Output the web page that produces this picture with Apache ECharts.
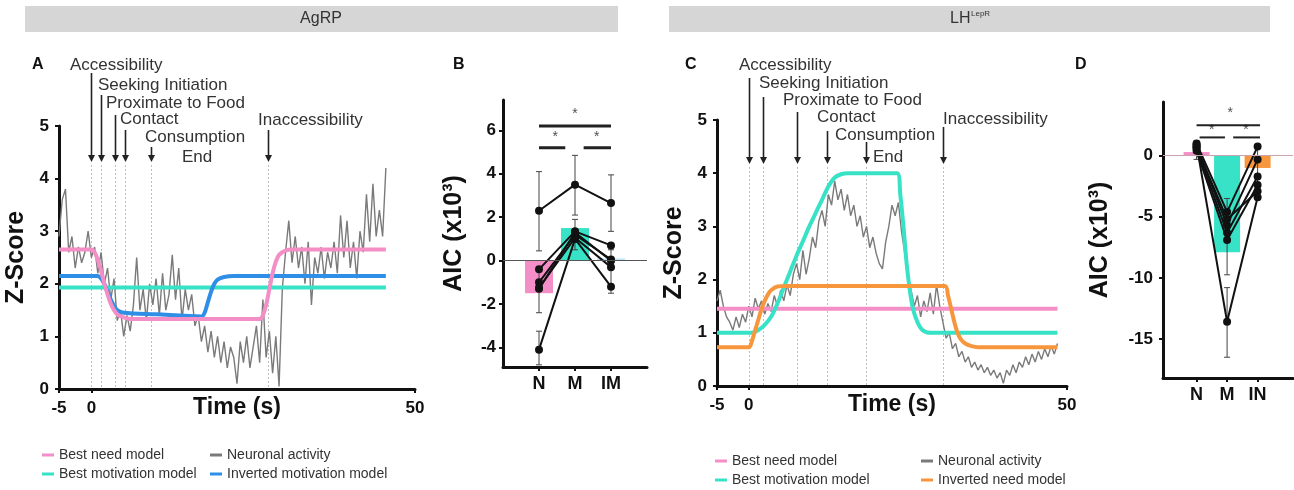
<!DOCTYPE html>
<html>
<head>
<meta charset="utf-8">
<script src="https://cdn.jsdelivr.net/npm/echarts@6/dist/echarts.min.js"></script>
<style>
  html, body { margin: 0; padding: 0; background: #fff; }
  #chart { width: 1294px; height: 490px; }
</style>
</head>
<body>
<div id="chart"></div>
<script>
// ---- data ----
const traceStart = -5;
const traceStep = 0.5;

// AgRP neuronal activity (z-score), one value every 0.5 s from -5 s
const activityA = [
  2.9, 3.6, 3.8, 2.6, 2.9, 2.3, 2.7, 2.4, 2.6, 3.0,
  2.5, 2.7, 2.2, 2.6, 2.0, 2.3, 1.7, 2.1, 1.3, 1.5,
  1.0, 1.4, 1.1, 1.6, 2.5, 1.5, 1.9, 1.3, 2.0, 1.6,
  2.1, 1.4, 2.2, 1.5, 1.8, 2.55, 1.7, 2.3, 1.3, 1.9,
  1.5, 1.8, 1.2, 1.4, 0.9, 1.2, 0.7, 1.1, 0.6, 1.0,
  0.5, 0.9, 0.4, 0.8, 0.6, 0.1, 0.9, 0.5, 1.0, 0.4,
  0.8, 1.2, 0.5, 1.7, 0.6, 1.1, 0.3, 1.0, 0.05, 1.9,
  2.6, 3.2, 2.4, 2.9, 2.3, 2.7, 2.0, 2.8, 1.6, 2.5,
  2.2, 2.7, 2.1, 2.6, 2.3, 2.8, 2.2, 3.3, 2.5, 3.2,
  2.3, 2.8, 2.1, 3.0, 2.6, 3.7, 2.8, 3.9, 2.9, 3.4,
  2.9, 4.2
];
const needA = [[-5,2.65],[0,2.65],[0.5,2.6],[1,2.45],[1.5,2.25],[2,2.0],[2.5,1.8],[3,1.62],[3.5,1.5],[4,1.42],[5,1.36],[6,1.33],
  [26,1.33],[26.5,1.4],[27,1.6],[27.5,1.9],[28,2.2],[28.5,2.42],[29,2.55],[30,2.63],[31,2.65],[45.5,2.65]];
const motivationA = [[-5,1.93],[45.5,1.93]];
const invMotivationA = [[-5,2.15],[1,2.15],[1.5,2.1],[2,2.0],[2.5,1.85],[3,1.7],[3.5,1.58],[4,1.5],[5,1.45],[10,1.42],[17,1.38],
  [17.5,1.45],[18,1.65],[18.5,1.85],[19,2.0],[19.5,2.08],[20.5,2.13],[22,2.15],[45.5,2.15]];

// LH-LepR neuronal activity, one value every 0.5 s from -5 s
const activityC = [
  1.6, 1.8, 1.5, 1.3, 1.2, 1.05, 1.3, 1.1, 1.35, 1.2,
  1.5, 1.3, 1.65, 1.45, 1.6, 1.35, 1.55, 1.4, 1.7, 1.5,
  1.8, 1.6, 1.9, 1.7, 2.1, 2.3, 2.0, 2.55, 2.1, 2.4,
  2.8, 2.6, 3.1, 3.3, 3.0, 3.6, 3.4, 3.85, 3.5, 3.7,
  3.3, 3.6, 3.2, 3.4, 3.0, 3.2, 2.8, 3.0, 2.6, 2.8,
  2.5, 2.3, 2.2, 2.7, 3.0, 3.4, 3.2, 3.45, 2.9, 2.5,
  2.1, 1.8, 1.5, 1.7, 1.3, 1.6, 1.4, 1.75, 1.35, 1.9,
  1.5, 1.2, 0.9, 1.0, 0.7, 0.8, 0.55, 0.65, 0.45, 0.55,
  0.35, 0.45, 0.3, 0.4, 0.25, 0.35, 0.2, 0.3, 0.15, 0.25,
  0.05, 0.3, 0.2, 0.4, 0.25, 0.45, 0.35, 0.55, 0.4, 0.6,
  0.45, 0.65, 0.5, 0.7, 0.55, 0.75, 0.6, 0.8
];
const needC = [[-5,1.45],[48.5,1.45]];
const motivationC = [[-5,1.0],[0.5,1.0],[1.5,1.05],[2.5,1.15],[3.5,1.3],[4.5,1.55],[5.5,1.85],[6.5,2.15],[7.5,2.45],[8.5,2.72],
  [9.5,3.0],[10.5,3.25],[11.5,3.5],[12.5,3.75],[13.5,3.92],[14.5,3.98],[15.5,4.0],[23.3,4.0],[23.8,3.6],[24.3,3.0],[24.8,2.3],
  [25.3,1.8],[25.8,1.45],[26.5,1.2],[27.3,1.05],[28.5,1.0],[48.5,1.0]];
const invNeedC = [[-5,0.73],[0,0.73],[0.5,0.85],[1,1.05],[1.5,1.25],[2,1.45],[2.5,1.6],[3,1.72],[3.5,1.8],[4.5,1.87],[6,1.88],
  [30.8,1.88],[31.3,1.7],[31.8,1.45],[32.3,1.2],[32.8,1.0],[33.3,0.88],[34,0.8],[35,0.75],[36,0.73],[48.5,0.73]];

const eventNames = ['Accessibility', 'Seeking Initiation', 'Proximate to Food', 'Contact', 'Consumption', 'End', 'Inaccessibility'];
const eventTimesA = [0, 1.5, 3.6, 5.2, 9.2, null, 27.3];
const eventTimesC = [0, 2.2, 7.5, 12.3, 18.4, null, 30.5];

const timeTicks = [-5, 0, 50];

// AIC panels
const groupsB = ['N', 'M', 'IM'];
const barB = [-1.5, 1.5, 0.1];
const subjectsB = [[2.3, 3.5, 2.65], [-0.4, 1.35, 0.7], [-1.0, 1.2, 0.05], [-1.25, 1.05, -0.3], [-4.1, 1.0, -1.2], [-1.3, 1.3, 0.0]];
const errB = [[1, 0.45, 4.1], [1, -2.4, -0.3], [1, -4.8, -3.25], [2, 2.1, 4.85], [2, 0.5, 1.9], [3, 1.35, 3.95], [3, -1.5, 0.5]];
const sigB = [[1, 3, 6.2], [1, 1.73, 5.2], [2.24, 3, 5.2]];
const starsB = [[2, 6.75], [1.45, 5.7], [2.6, 5.7]];
const aicTicksB = [-4, -2, 0, 2, 4, 6];

const groupsD = ['N', 'M', 'IN'];
const barD = [0.3, -7.9, -1.0];
const subjectsD = [[1.0, -4.6, 0.75], [0.8, -5.7, -0.3], [0.6, -6.3, -1.7], [0.4, -6.9, -2.4], [0.7, -5.2, -2.9], [0.9, -13.6, -3.4]];
const errD = [[1, -0.3, 1.2], [2, -16.5, -10.8], [2, -9.75, -3.5], [3, -3.6, 0.9]];
const sigD = [[1, 3.08, 2.5], [1.1, 1.93, 1.5], [2.2, 3.08, 1.5]];
const starsD = [[2.1, 3.5], [1.5, 2.1], [2.62, 2.1]];
const aicTicksD = [-15, -10, -5, 0];

// ---- style ----
const FONT = '"Liberation Sans", Arial, sans-serif';
const C_NEED = '#f38ec6';
const C_MOT = '#38e2c6';
const C_INVMOT = '#2f8fe6';
const C_INVNEED = '#f7963c';
const C_ACT = '#7a7a7a';
const INK = '#111';

const chart = echarts.init(document.getElementById('chart'));

function xTimeAxis(gridIndex) {
  return {
    type: 'value', gridIndex, min: -5, max: 50,
    name: 'Time (s)', nameLocation: 'middle', nameGap: 7, nameMoveOverlap: false,
    nameTextStyle: { fontFamily: FONT, fontWeight: 'bold', fontSize: 23, color: INK, verticalAlign: 'top' },
    axisLine: { onZero: false, lineStyle: { color: INK, width: 3 } },
    axisTick: { customValues: timeTicks, length: 4, lineStyle: { width: 2, color: INK } },
    axisLabel: { customValues: timeTicks, fontFamily: FONT, fontWeight: 'bold', fontSize: 17, color: INK, margin: 11 },
    splitLine: { show: false }
  };
}
function yZAxis(gridIndex) {
  return {
    type: 'value', gridIndex, min: 0, max: 5, interval: 1,
    name: 'Z-Score', nameLocation: 'middle', nameGap: 30, nameMoveOverlap: false,
    nameTextStyle: { fontFamily: FONT, fontWeight: 'bold', fontSize: 25, color: INK },
    axisLine: { show: true, onZero: false, lineStyle: { color: INK, width: 3 } },
    axisTick: { show: true, length: 4, lineStyle: { width: 2, color: INK } },
    axisLabel: { fontFamily: FONT, fontWeight: 'bold', fontSize: 17, color: INK, margin: 10 },
    splitLine: { show: false }
  };
}
function xGroupAxis(gridIndex, min, max, groups) {
  return {
    type: 'value', gridIndex, min, max,
    axisLine: { onZero: false, lineStyle: { color: INK, width: 3 } },
    axisTick: { customValues: [1, 2, 3], length: 4, lineStyle: { width: 2, color: INK } },
    axisLabel: { customValues: [1, 2, 3], formatter: v => groups[Math.round(v) - 1],
      fontFamily: FONT, fontWeight: 'bold', fontSize: 18, color: INK, margin: 8 },
    splitLine: { show: false }
  };
}
function yAicAxis(gridIndex, min, max, ticks, gap, margin) {
  return {
    type: 'value', gridIndex, min, max,
    name: 'AIC (x10³)', nameLocation: 'middle', nameGap: gap, nameMoveOverlap: false,
    nameTextStyle: { fontFamily: FONT, fontWeight: 'bold', fontSize: 25, color: INK },
    axisLine: { show: true, onZero: false, lineStyle: { color: INK, width: 3 } },
    axisTick: { show: true, customValues: ticks, length: 4, lineStyle: { width: 2, color: INK } },
    axisLabel: { customValues: ticks, fontFamily: FONT, fontWeight: 'bold', fontSize: 17, color: INK, margin },
    splitLine: { show: false }
  };
}

function traceSeries(name, values, color, xi) {
  return {
    name, type: 'line', xAxisIndex: xi, yAxisIndex: xi, symbol: 'none',
    data: values.map((v, i) => [traceStart + i * traceStep, v]),
    lineStyle: { color, width: 1.4 }, itemStyle: { color }, z: 2
  };
}
function modelSeries(name, pts, color, xi) {
  return {
    name, type: 'line', xAxisIndex: xi, yAxisIndex: xi, symbol: 'none', smooth: 0.3,
    data: pts, lineStyle: { color, width: 4 }, itemStyle: { color }, z: 3
  };
}

function aicSeries(xi, bars, colors, subjects, errs, sig, stars, zeroColor, barWidth, sigWidth) {
  const out = [];
  out.push({
    type: 'bar', xAxisIndex: xi, yAxisIndex: xi, barWidth,
    data: bars.map((v, i) => ({ value: [i + 1, v], itemStyle: { color: colors[i] } })),
    markLine: { silent: true, symbol: 'none', label: { show: false },
      lineStyle: { color: zeroColor, width: 1.2, type: 'solid' }, data: [{ yAxis: 0 }] },
    z: 1
  });
  out.push({
    type: 'custom', xAxisIndex: xi, yAxisIndex: xi, data: errs, z: 2,
    renderItem: (params, api) => {
      const x = api.value(0);
      const lo = api.coord([x, api.value(1)]);
      const hi = api.coord([x, api.value(2)]);
      const st = { stroke: '#444', lineWidth: 1 };
      return { type: 'group', children: [
        { type: 'line', shape: { x1: lo[0], y1: lo[1], x2: hi[0], y2: hi[1] }, style: st },
        { type: 'line', shape: { x1: lo[0] - 3, y1: lo[1], x2: lo[0] + 3, y2: lo[1] }, style: st },
        { type: 'line', shape: { x1: hi[0] - 3, y1: hi[1], x2: hi[0] + 3, y2: hi[1] }, style: st }
      ] };
    }
  });
  subjects.forEach(s => out.push({
    type: 'line', xAxisIndex: xi, yAxisIndex: xi, data: s.map((v, i) => [i + 1, v]),
    symbol: 'circle', symbolSize: 8, lineStyle: { color: '#111', width: 2 }, itemStyle: { color: '#111' }, z: 3
  }));
  sig.forEach(b => out.push({
    type: 'line', xAxisIndex: xi, yAxisIndex: xi, data: [[b[0], b[2]], [b[1], b[2]]],
    symbol: 'none', lineStyle: { color: '#222', width: sigWidth }, z: 3
  }));
  out.push({
    type: 'scatter', xAxisIndex: xi, yAxisIndex: xi, data: stars, symbolSize: 0,
    itemStyle: { color: 'rgba(0,0,0,0)' },
    label: { show: true, position: 'inside', formatter: '*', fontFamily: FONT, fontSize: 14, color: '#222' }, z: 4
  });
  return out;
}

const legendText = { fontFamily: FONT, fontSize: 14, color: '#333', lineHeight: 16 };
function legend(left, top, names) {
  return { orient: 'vertical', left, top, padding: 0, data: names, icon: 'rect', itemWidth: 12, itemHeight: 3,
    itemGap: 3, textStyle: legendText, selectedMode: false };
}

chart.setOption({
  animation: false,
  backgroundColor: '#fff',
  grid: [
    { left: 59, top: 126, width: 356, height: 263 },
    { left: 503, top: 100, width: 144, height: 267 },
    { left: 717, top: 120, width: 350, height: 266 },
    { left: 1163, top: 102, width: 130, height: 276 }
  ],
  xAxis: [xTimeAxis(0), xGroupAxis(1, 0, 4, groupsB), xTimeAxis(2), xGroupAxis(3, -0.1, 4.16, groupsD)],
  yAxis: [yZAxis(0), yAicAxis(1, -4.9, 7.4, aicTicksB, 36, 7), yZAxis(2), yAicAxis(3, -18.2, 4.4, aicTicksD, 50, 10)],
  legend: [
    legend(42, 447, ['Best need model', 'Best motivation model']),
    legend(210, 447, ['Neuronal activity', 'Inverted motivation model']),
    legend(715, 453, ['Best need model', 'Best motivation model']),
    legend(921, 453, ['Neuronal activity', 'Inverted need model'])
  ],
  series: [
    traceSeries('Neuronal activity', activityA, C_ACT, 0),
    modelSeries('Best motivation model', motivationA, C_MOT, 0),
    modelSeries('Inverted motivation model', invMotivationA, C_INVMOT, 0),
    modelSeries('Best need model', needA, C_NEED, 0),
    ...aicSeries(1, barB, [C_NEED, C_MOT, '#bfe3f7'], subjectsB, errB, sigB, starsB, '#555', 28, 3),
    traceSeries('Neuronal activity', activityC, C_ACT, 2),
    modelSeries('Best need model', needC, C_NEED, 2),
    modelSeries('Best motivation model', motivationC, C_MOT, 2),
    modelSeries('Inverted need model', invNeedC, C_INVNEED, 2),
    ...aicSeries(3, barD, [C_NEED, C_MOT, C_INVNEED], subjectsD, errD, sigD, starsD, '#c9a3ad', 26, 2)
  ]
});

// ---- annotations: headers, panel letters, event arrows ----
const graphics = [];
function text(x, y, str, size, opts) {
  graphics.push({ type: 'text', x, y, z: 10, style: Object.assign({
    text: str, fontFamily: FONT, fontSize: size, fill: '#333', verticalAlign: 'middle' }, opts || {}) });
}
graphics.push({ type: 'rect', shape: { x: 25, y: 6, width: 593, height: 26 }, style: { fill: '#d6d6d6' }, z: 0 });
graphics.push({ type: 'rect', shape: { x: 669, y: 6, width: 601, height: 26 }, style: { fill: '#d6d6d6' }, z: 0 });
text(321, 19, 'AgRP', 16, { align: 'center' });
text(950, 19, 'LH', 16);
text(971, 14, 'LepR', 8);
text(32, 65, 'A', 16, { fontWeight: 'bold', fill: '#111' });
text(453, 65, 'B', 16, { fontWeight: 'bold', fill: '#111' });
text(685, 65, 'C', 16, { fontWeight: 'bold', fill: '#111' });
text(1075, 65, 'D', 16, { fontWeight: 'bold', fill: '#111' });

const labelPosA = [[70, 65], [98, 85], [106, 103], [120, 119], [145, 137], [182, 157], [258, 120]];
const arrowTopA = [73, 95, 115, 130, 147, null, 130];
const labelPosC = [[739, 65], [759, 83], [783, 100], [817, 117], [835, 135], [873, 157], [943, 119]];
const arrowTopC = [78, 97, 112, 131, 142, null, 127];

function events(gridIndex, times, tops, pos, tipY) {
  const y0 = chart.convertToPixel({ gridIndex }, [0, 0])[1];
  eventNames.forEach((name, i) => {
    text(pos[i][0], pos[i][1], name, 17);
    if (times[i] == null) return;
    const x = Math.round(chart.convertToPixel({ gridIndex }, [times[i], 0])[0]) + 0.5;
    graphics.push({ type: 'line', z: 9, shape: { x1: x, y1: tops[i], x2: x, y2: tipY - 5 },
      style: { stroke: '#222', lineWidth: 1.6 } });
    graphics.push({ type: 'polygon', z: 9, shape: { points: [[x - 3.5, tipY - 7], [x + 3.5, tipY - 7], [x, tipY]] },
      style: { fill: '#222' } });
    graphics.push({ type: 'line', z: 1, shape: { x1: x, y1: tipY + 3, x2: x, y2: y0 },
      style: { stroke: '#bdbdbd', lineWidth: 1, lineDash: [2, 2] } });
  });
}
events(0, eventTimesA, arrowTopA, labelPosA, 162);
events(2, eventTimesC, arrowTopC, labelPosC, 164);

chart.setOption({ graphic: graphics });
</script>
</body>
</html>
